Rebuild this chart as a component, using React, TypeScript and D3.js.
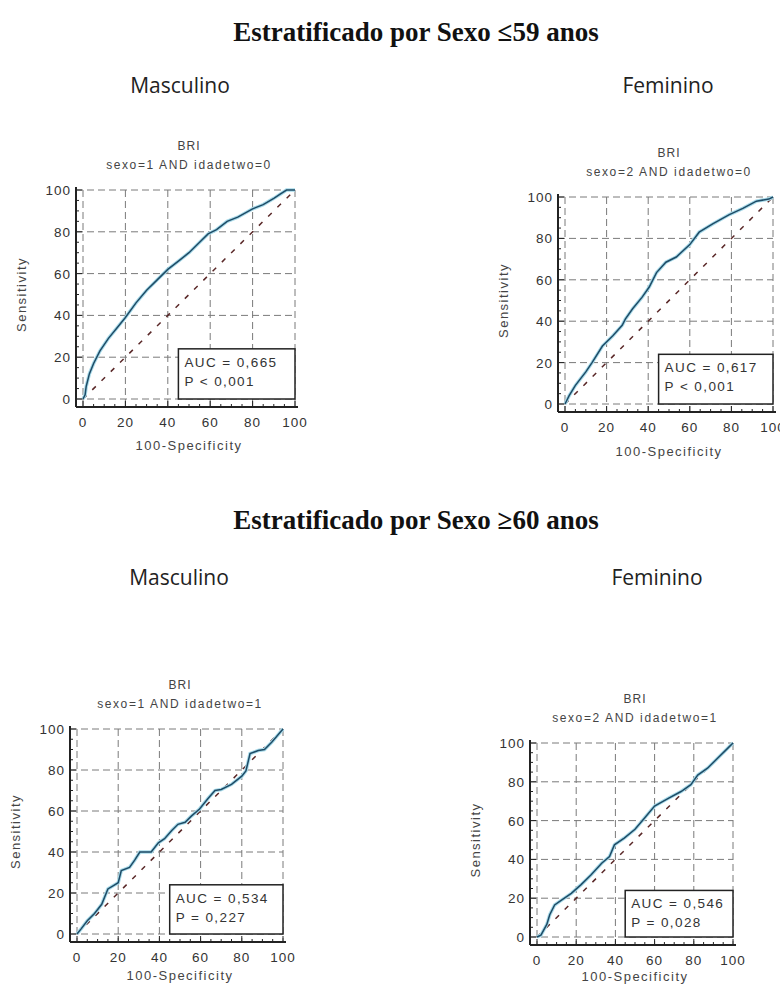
import React, { useEffect, useRef } from 'react';
import * as d3 from 'd3';

const SECTION_TITLES = ['Estratificado por Sexo ≤59 anos', 'Estratificado por Sexo ≥60 anos'];
const SEX_LABELS = ['Masculino', 'Feminino'];
const TICKS = [0, 20, 40, 60, 80, 100];
const MINOR_TICKS = d3.range(0, 101, 5);

// ROC points: [100-Specificity, Sensitivity]
const rocMascYoung: [number, number][] = [
  [0, 0], [1, 2], [1.5, 6], [3, 12], [5, 17], [8, 23], [12, 29], [16, 34], [20, 39],
  [25, 46], [30, 52], [35, 57], [40, 62], [45, 66], [50, 70], [55, 75], [59, 79],
  [63, 81], [68, 85], [73, 87], [80, 91], [85, 93], [90, 96], [93, 98], [96, 100], [100, 100],
];
const rocFemYoung: [number, number][] = [
  [0, 0], [2, 4], [5, 9], [10, 15.5], [13, 20], [18, 28], [23, 33], [27.5, 38], [29, 41],
  [32.5, 46], [37, 51.5], [40.5, 56.5], [44, 63.5], [48.5, 68.5], [53.5, 71], [60, 77],
  [64.5, 83], [71, 87], [79, 91.5], [85.5, 94.5], [92, 98], [98, 99], [100, 100],
];
const rocMascOld: [number, number][] = [
  [0, 0], [2, 2.5], [5, 6.5], [8.5, 10], [12, 14.5], [15, 22], [17.5, 23.5], [20, 25],
  [21.5, 31], [25.5, 32.5], [28, 36], [30.5, 40], [36, 40], [39.5, 44.5], [42.5, 46.5],
  [46, 50.5], [49, 53.5], [52.5, 54.5], [55.5, 57.5], [59.5, 61], [63.5, 66], [67, 70],
  [70, 70.5], [75, 73], [80, 77], [82, 79.5], [84, 88], [88, 89.5], [91, 90], [94.5, 93.5], [100, 100],
];
const rocFemOld: [number, number][] = [
  [0, 0], [2, 1], [5, 6.5], [6.5, 11.5], [9, 16.5], [12.5, 19], [17.5, 22.5], [22.5, 27],
  [27.5, 32], [33, 38], [37, 41.5], [39.5, 47.5], [44.5, 51], [50, 55.5], [55, 61.5],
  [60, 67.5], [67, 71.5], [73.5, 75], [78.5, 78.5], [82, 83.5], [87, 87], [92, 92], [97.5, 97.5], [100, 100],
];

const SUBTITLES = ['sexo=1 AND idadetwo=0', 'sexo=2 AND idadetwo=0', 'sexo=1 AND idadetwo=1', 'sexo=2 AND idadetwo=1'];
const AUC_LABELS = ['AUC = 0,665', 'AUC = 0,617', 'AUC = 0,534', 'AUC = 0,546'];
const P_LABELS = ['P < 0,001', 'P < 0,001', 'P = 0,227', 'P = 0,028'];
const ROCS = [rocMascYoung, rocFemYoung, rocMascOld, rocFemOld];

// pixel frame of each panel (x=0, x=100, y=100, y=0) and x-title offset
const FRAMES = [
  { x0: 83, x1: 295, yTop: 190, yBot: 399, xt: 43 },
  { x0: 565, x1: 773, yTop: 197, yBot: 404, xt: 44 },
  { x0: 77, x1: 283, yTop: 729, yBot: 934, xt: 38 },
  { x0: 537, x1: 733, yTop: 743, yBot: 937, xt: 36 },
];

const FONT = 'Arial, "Liberation Sans", sans-serif';

function drawPanel(svg: any, i: number) {
  const f = FRAMES[i];
  const x = d3.scaleLinear().domain([0, 100]).range([f.x0, f.x1]);
  const y = d3.scaleLinear().domain([0, 100]).range([f.yBot, f.yTop]);
  const axX = f.x0 - 7;
  const axY = f.yBot + 8;
  const g = svg.append('g');

  // grid
  g.selectAll('line.v').data(TICKS).enter().append('line')
    .attr('x1', (d: number) => x(d)).attr('x2', (d: number) => x(d))
    .attr('y1', y(100)).attr('y2', axY)
    .style('stroke', '#7a7a7a').style('stroke-dasharray', '7,4').style('stroke-width', 1);
  g.selectAll('line.h').data(TICKS).enter().append('line')
    .attr('y1', (d: number) => y(d)).attr('y2', (d: number) => y(d))
    .attr('x1', axX).attr('x2', x(100))
    .style('stroke', '#7a7a7a').style('stroke-dasharray', '7,4').style('stroke-width', 1);

  // diagonal
  g.append('line')
    .attr('x1', x(0)).attr('y1', y(0)).attr('x2', x(100)).attr('y2', y(100))
    .style('stroke', '#5a2828').style('stroke-width', 1.5).style('stroke-dasharray', '5,8');

  // AUC box
  g.append('rect')
    .attr('x', x(45)).attr('y', y(24)).attr('width', x(100) - x(45)).attr('height', y(0) - y(24))
    .style('fill', 'white').style('stroke', '#222').style('stroke-width', 1.5);
  g.append('text').attr('x', x(45) + 6).attr('y', y(24) + 18).text(AUC_LABELS[i])
    .style('font-family', FONT).style('font-size', '13.5px').style('letter-spacing', '1.4px').style('fill', '#333');
  g.append('text').attr('x', x(45) + 6).attr('y', y(24) + 37).text(P_LABELS[i])
    .style('font-family', FONT).style('font-size', '13.5px').style('letter-spacing', '1.4px').style('fill', '#333');

  // ROC curve
  const line = d3.line<[number, number]>().x(d => x(d[0])).y(d => y(d[1]));
  g.append('path').datum(ROCS[i]).attr('d', line)
    .style('fill', 'none').style('stroke', '#a9dbea').style('stroke-width', 3.5);
  g.append('path').datum(ROCS[i]).attr('d', line)
    .style('fill', 'none').style('stroke', '#1e4b66').style('stroke-width', 1.5);

  // axes
  g.append('line').attr('x1', axX).attr('x2', axX).attr('y1', y(100) - 3).attr('y2', axY)
    .style('stroke', '#222').style('stroke-width', 2);
  g.append('line').attr('x1', axX).attr('x2', x(100) + 3).attr('y1', axY).attr('y2', axY)
    .style('stroke', '#222').style('stroke-width', 2);
  g.selectAll('line.mx').data(MINOR_TICKS).enter().append('line')
    .attr('x1', (d: number) => x(d)).attr('x2', (d: number) => x(d))
    .attr('y1', axY).attr('y2', (d: number) => axY - (d % 20 === 0 ? 6 : 3))
    .style('stroke', '#222').style('stroke-width', 1);
  g.selectAll('line.my').data(MINOR_TICKS).enter().append('line')
    .attr('y1', (d: number) => y(d)).attr('y2', (d: number) => y(d))
    .attr('x1', axX).attr('x2', (d: number) => axX + (d % 20 === 0 ? 6 : 3))
    .style('stroke', '#222').style('stroke-width', 1);

  // tick labels
  g.selectAll('text.tx').data(TICKS).enter().append('text')
    .attr('x', (d: number) => x(d)).attr('y', axY + 20).attr('text-anchor', 'middle')
    .text((d: number) => d)
    .style('font-family', FONT).style('font-size', '13.5px').style('letter-spacing', '1px').style('fill', '#333');
  g.selectAll('text.ty').data(TICKS).enter().append('text')
    .attr('x', axX - 5).attr('y', (d: number) => y(d) + 5).attr('text-anchor', 'end')
    .text((d: number) => d)
    .style('font-family', FONT).style('font-size', '13.5px').style('letter-spacing', '1px').style('fill', '#333');

  // titles
  const cx = (f.x0 + f.x1) / 2;
  g.append('text').attr('x', cx).attr('y', f.yTop - 40).attr('text-anchor', 'middle').text('BRI')
    .style('font-family', FONT).style('font-size', '12px').style('letter-spacing', '1px').style('fill', '#444');
  g.append('text').attr('x', cx).attr('y', f.yTop - 21).attr('text-anchor', 'middle').text(SUBTITLES[i])
    .style('font-family', FONT).style('font-size', '12px').style('letter-spacing', '1.6px').style('fill', '#444');
  g.append('text').attr('x', cx).attr('y', axY + f.xt).attr('text-anchor', 'middle').text('100-Specificity')
    .style('font-family', FONT).style('font-size', '13px').style('letter-spacing', '1.5px').style('fill', '#444');
  g.append('text')
    .attr('transform', `translate(${axX - 50},${(f.yTop + f.yBot) / 2}) rotate(-90)`)
    .attr('text-anchor', 'middle').text('Sensitivity')
    .style('font-family', FONT).style('font-size', '13px').style('letter-spacing', '1.5px').style('fill', '#444');
}

export default function App() {
  const ref = useRef<SVGSVGElement>(null);

  useEffect(() => {
    const svg = d3.select(ref.current);
    svg.selectAll('*').remove();
    svg.append('rect').attr('width', 780).attr('height', 986).style('fill', 'white');

    [41, 529].forEach((ty, k) => {
      svg.append('text').attr('x', 416).attr('y', ty).attr('text-anchor', 'middle').text(SECTION_TITLES[k])
        .style('font-family', '"Liberation Serif", "Times New Roman", serif')
        .style('font-weight', 'bold').style('font-size', '27px').style('fill', '#111');
    });
    [[180, 93], [668, 93], [179, 585], [657, 585]].forEach(([lx, ly], k) => {
      svg.append('text').attr('x', lx).attr('y', ly).attr('text-anchor', 'middle').text(SEX_LABELS[k % 2])
        .style('font-family', '"Open Sans", "Noto Sans", sans-serif').style('font-size', '21px').style('fill', '#222');
    });

    ROCS.forEach((_, i) => drawPanel(svg, i));
  }, []);

  return (
    <div style={{ position: 'absolute', left: 0, top: 0 }}>
      <svg ref={ref} width={780} height={986} />
    </div>
  );
}
